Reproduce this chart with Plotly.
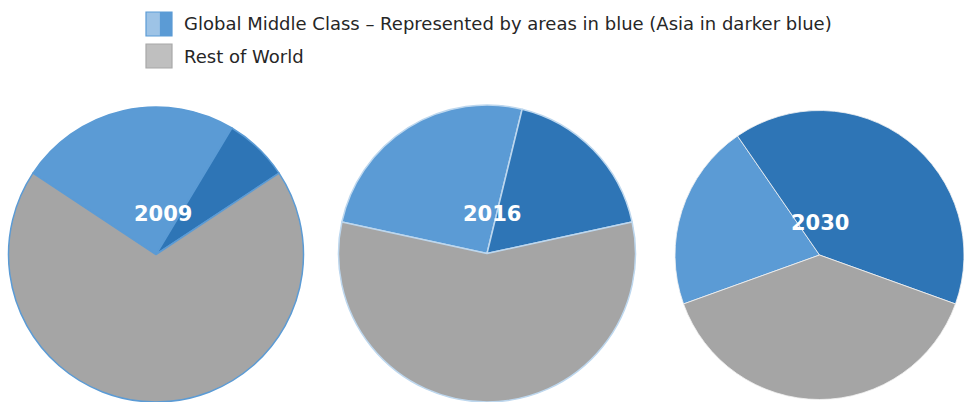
import plotly.graph_objects as go

# Share of world population (%) per year, read clockwise: non-Asian middle class, Asian middle class, rest of world
years = ["2009", "2016", "2030"]
middle_class_other = [24.3, 25.4, 20.9]
middle_class_asia = [7.1, 17.8, 40.1]
rest_of_world = [68.6, 56.8, 39.0]

slice_names = ["Global Middle Class", "Global Middle Class (Asia)", "Rest of World"]
legend_labels = [
    "Global Middle Class \u2013 Represented by areas in blue (Asia in darker blue)",
    "Rest of World",
]

LIGHT_BLUE = "#5B9BD5"
DARK_BLUE = "#2E75B6"
GREY = "#A5A5A5"

W, H = 964, 402

# pixel boxes for each pie (left, top, right, bottom)
boxes = [(8, 107, 304, 402), (337, 105, 637, 402), (675, 108, 964, 402)]
outline_colors = ["#5B9BD5", "#BDD7EE", "#F2F2F2"]
outline_widths = [1.5, 1.5, 0.8]
label_pos = [(163, 214), (492, 214), (820, 223)]

fig = go.Figure()
for i, year in enumerate(years):
    vals = [middle_class_other[i], middle_class_asia[i], rest_of_world[i]]
    total = sum(vals)
    # keep the "rest of world" slice centred on six o'clock
    rotation = 180 + rest_of_world[i] / total * 360 / 2
    l, t, r, b = boxes[i]
    fig.add_trace(go.Pie(
        labels=slice_names,
        values=vals,
        sort=False,
        direction="clockwise",
        rotation=rotation,
        marker=dict(colors=[LIGHT_BLUE, DARK_BLUE, GREY],
                    line=dict(color=outline_colors[i], width=outline_widths[i])),
        textinfo="none",
        hoverinfo="label+percent",
        showlegend=False,
        domain=dict(x=[l / W, r / W], y=[1 - b / H, 1 - t / H]),
        name=year,
    ))
    x, y = label_pos[i]
    fig.add_annotation(
        x=x / W, y=1 - y / H, xref="paper", yref="paper",
        text="<b>%s</b>" % year, showarrow=False,
        font=dict(family="DejaVu Sans", size=21, color="white"),
        xanchor="center", yanchor="middle",
    )

# hand-drawn legend: split blue swatch and grey swatch
swatch = dict(xref="paper", yref="paper", type="rect")
fig.add_shape(x0=146 / W, x1=159.5 / W, y0=1 - 36 / H, y1=1 - 12 / H,
              fillcolor="#9DC3E6", line=dict(width=0), **swatch)
fig.add_shape(x0=159.5 / W, x1=172 / W, y0=1 - 36 / H, y1=1 - 12 / H,
              fillcolor=LIGHT_BLUE, line=dict(width=0), **swatch)
fig.add_shape(x0=146 / W, x1=172 / W, y0=1 - 36 / H, y1=1 - 12 / H,
              fillcolor="rgba(0,0,0,0)", line=dict(color="#5B9BD5", width=1.2), **swatch)
fig.add_shape(x0=146 / W, x1=172 / W, y0=1 - 68 / H, y1=1 - 44 / H,
              fillcolor="#BFBFBF", line=dict(color="#A8A8A8", width=1.2), **swatch)

for k, (txt, yy) in enumerate(zip(legend_labels, [24, 56])):
    fig.add_annotation(
        x=182 / W, y=1 - yy / H, xref="paper", yref="paper",
        text=txt, showarrow=False, xanchor="left", yanchor="middle",
        font=dict(family="DejaVu Sans", size=18, color="#262626"),
    )

fig.update_layout(
    width=W, height=H,
    margin=dict(l=0, r=0, t=0, b=0),
    paper_bgcolor="white", plot_bgcolor="white",
)

fig.write_html("out.html")
